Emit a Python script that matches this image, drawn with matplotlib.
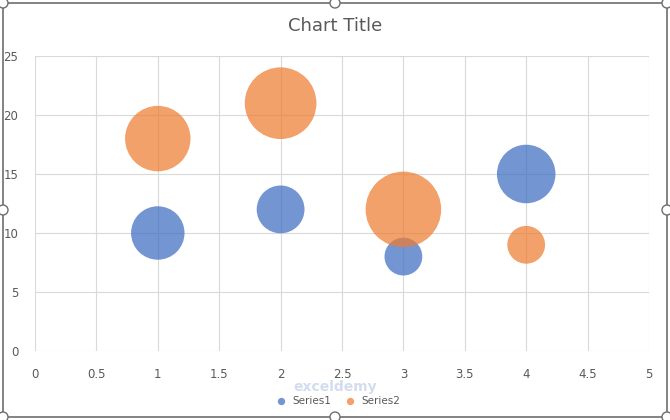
import matplotlib.pyplot as plt
from matplotlib.patches import Rectangle, Circle

# bubble data
x_vals = [1, 2, 3, 4]
series1_y = [10, 12, 8, 15]
series1_size = [10, 8, 5, 12]
series2_y = [18, 21, 12, 9]
series2_size = [15, 18, 20, 5]

x_ticks = [0, 0.5, 1, 1.5, 2, 2.5, 3, 3.5, 4, 4.5, 5]
x_tick_labels = ['0', '0.5', '1', '1.5', '2', '2.5', '3', '3.5', '4', '4.5', '5']
y_ticks = [0, 5, 10, 15, 20, 25]

grey = '#595959'
scale = 148  # marker area per unit of bubble size

fig = plt.figure(figsize=(6.7, 4.2), dpi=100)
ax = fig.add_axes([35 / 670, 1 - 351 / 420, 614 / 670, 295 / 420])

ax.scatter(x_vals, series1_y, s=[v * scale for v in series1_size],
           color='#4472C4', alpha=0.75, linewidths=0, zorder=3, label='Series1')
ax.scatter(x_vals, series2_y, s=[v * scale for v in series2_size],
           color='#ED7D31', alpha=0.72, linewidths=0, zorder=4, label='Series2')

ax.set_xlim(0, 5)
ax.set_ylim(0, 25)
ax.set_xticks(x_ticks)
ax.set_xticklabels(x_tick_labels)
ax.set_yticks(y_ticks)
ax.grid(True, color='#d9d9d9', linewidth=0.8, zorder=0)
ax.set_axisbelow(True)
for sp in ax.spines.values():
    sp.set_visible(False)
ax.tick_params(length=0, colors=grey, labelsize=8.5)
ax.tick_params(axis='x', pad=12)
ax.tick_params(axis='y', pad=12)

fig.text(0.5, 1 - 26 / 420, 'Chart Title', ha='center', va='center',
         fontsize=13, color=grey)

# faint watermark
fig.text(0.5, 1 - 387 / 420, 'exceldemy', ha='center', va='center',
         fontsize=10, color='#d3ddef', fontweight='bold', zorder=0)

leg = fig.legend(loc='center', bbox_to_anchor=(0.5, 1 - 401 / 420), ncol=2,
                 frameon=False, fontsize=7.5, handletextpad=0.1,
                 columnspacing=0.8, borderpad=0.1)
for h in leg.legend_handles:
    h.set_sizes([28])
for t in leg.get_texts():
    t.set_color(grey)

# chart frame with selection handles
fig.patches.append(Rectangle((3 / 670, 3 / 420), 664 / 670, 414 / 420,
                             transform=fig.transFigure, fill=False,
                             edgecolor='#6e6e6e', linewidth=1.2))
hx = [3 / 670, 0.5, 667 / 670]
hy = [3 / 420, 0.5, 417 / 420]
for px in hx:
    for py in hy:
        if px == 0.5 and py == 0.5:
            continue
        fig.patches.append(Circle((px * 6.7, py * 4.2), 0.05,
                                  transform=fig.dpi_scale_trans,
                                  facecolor='white', edgecolor='#6e6e6e',
                                  linewidth=1.0))

fig.savefig('out.png', dpi=100)
